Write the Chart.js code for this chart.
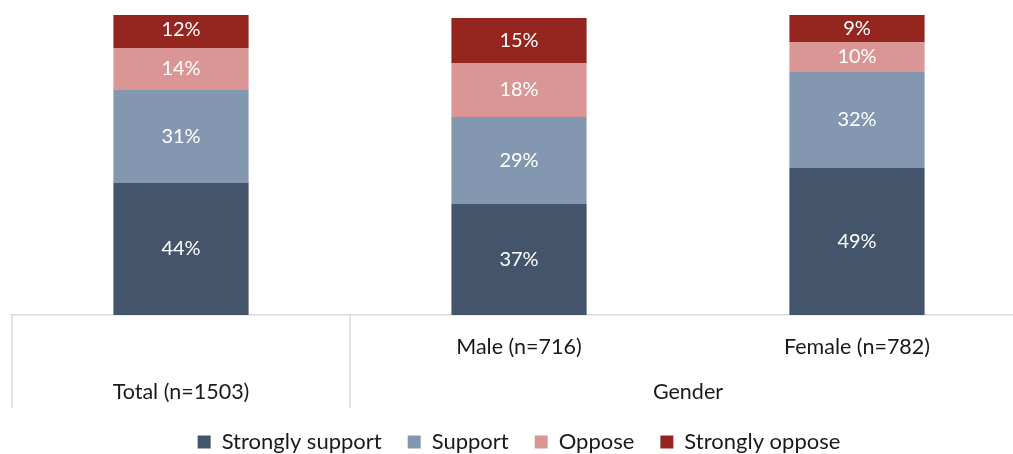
<!DOCTYPE html>
<html>
<head>
<meta charset="utf-8">
<script src="https://cdn.jsdelivr.net/npm/chart.js@4.4.0/dist/chart.umd.min.js"></script>
<style>
    html, body { margin: 0; padding: 0; background: #fff; overflow: hidden; }
    #wrap { position: relative; width: 1026px; height: 454px; }
</style>
</head>
<body>
<div id="wrap"><canvas id="supportChart"></canvas></div>
<script>
// Categories and two-level axis labels
const categories = ['Total (n=1503)', 'Male (n=716)', 'Female (n=782)'];
const subLabels = ['', 'Male (n=716)', 'Female (n=782)'];
const groupLabels = ['Total (n=1503)', 'Gender', 'Gender'];

// Series values (%)
const stronglySupport = [44, 37, 49];
const support = [31, 29, 32];
const oppose = [14, 18, 10];
const stronglyOppose = [12, 15, 9];

const seriesNames = ['Strongly support', 'Support', 'Oppose', 'Strongly oppose'];
const seriesColors = ['#44546A', '#8497B0', '#DA9694', '#95261F'];

const FONT = 'Lato';

// Percent labels in the middle of each segment
const segmentLabels = {
    id: 'segmentLabels',
    afterDatasetsDraw(chart) {
        const ctx = chart.ctx;
        ctx.save();
        ctx.font = '20px ' + FONT;
        ctx.fillStyle = '#fff';
        ctx.textAlign = 'center';
        ctx.textBaseline = 'middle';
        chart.data.datasets.forEach((ds, i) => {
            chart.getDatasetMeta(i).data.forEach((bar, j) => {
                const y = (bar.y + bar.base) / 2;
                ctx.fillText(ds.data[j] + '%', bar.x, y);
            });
        });
        ctx.restore();
    }
};

// Multi-level category axis: sub labels, group labels and separators
const multiLevelAxis = {
    id: 'multiLevelAxis',
    afterDraw(chart) {
        const ctx = chart.ctx;
        const xs = chart.scales.x;
        const y0 = chart.chartArea.bottom;
        const step = xs.width / categories.length;
        ctx.save();
        ctx.strokeStyle = '#D9D9D9';
        ctx.lineWidth = 1.5;
        ctx.font = '21.5px ' + FONT;
        ctx.fillStyle = '#1a1a1a';
        ctx.textAlign = 'center';
        ctx.textBaseline = 'middle';

        categories.forEach((c, i) => {
            const cx = xs.getPixelForValue(i);
            if (subLabels[i]) ctx.fillText(subLabels[i], cx, y0 + 32);
            if (i === 0 || groupLabels[i] !== groupLabels[i - 1]) {
                const left = cx - step / 2;
                ctx.beginPath();
                ctx.moveTo(left, y0);
                ctx.lineTo(left, y0 + 93);
                ctx.stroke();
                let k = i;
                while (k + 1 < categories.length && groupLabels[k + 1] === groupLabels[i]) k++;
                const mid = (cx + xs.getPixelForValue(k)) / 2;
                ctx.fillText(groupLabels[i], mid, y0 + 77);
            }
        });
        ctx.restore();
    }
};

const order = [stronglySupport, support, oppose, stronglyOppose];

new Chart(document.getElementById('supportChart').getContext('2d'), {
    type: 'bar',
    data: {
        labels: categories,
        datasets: order.map((vals, i) => ({
            label: seriesNames[i],
            data: vals,
            backgroundColor: seriesColors[i],
            borderWidth: 0,
            categoryPercentage: 1,
            barPercentage: 0.4,
        })),
    },
    options: {
        responsive: true,
        maintainAspectRatio: false,
        animation: false,
        layout: {
            padding: { top: 15, left: 12, right: 0, bottom: -9 },
        },
        scales: {
            x: {
                stacked: true,
                grid: { display: false, drawTicks: false },
                border: { color: '#D9D9D9', width: 1.5 },
                ticks: { display: false },
                afterFit(scale) { scale.height = 90; },
            },
            y: {
                stacked: true,
                display: false,
                min: 0,
                max: 100,
            },
        },
        plugins: {
            legend: {
                position: 'bottom',
                labels: {
                    boxWidth: 13,
                    boxHeight: 13,
                    padding: 26,
                    color: '#1a1a1a',
                    font: { family: FONT, size: 22 },
                },
            },
            tooltip: { enabled: false },
        },
    },
    plugins: [segmentLabels, multiLevelAxis],
});
</script>
</body>
</html>
